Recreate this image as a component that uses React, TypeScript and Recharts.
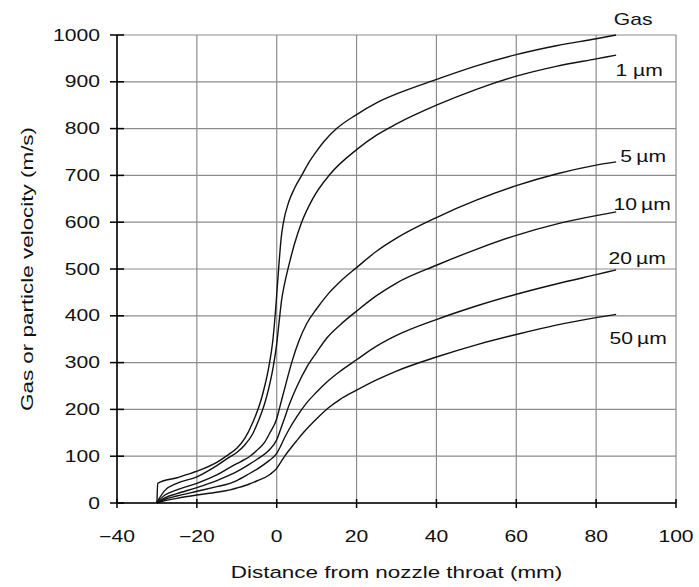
import React from "react";
import {
  LineChart,
  Line,
  XAxis,
  YAxis,
  CartesianGrid,
  ReferenceDot,
} from "recharts";

type Pt = [number, number];

const xTicks = [-40, -20, 0, 20, 40, 60, 80, 100];
const yTicks = [0, 100, 200, 300, 400, 500, 600, 700, 800, 900, 1000];

// distance (mm), velocity (m/s)
const gas: Pt[] = [
  [-30, 0], [-29.8, 42], [-25, 54], [-20, 68], [-15, 87], [-12, 104], [-10, 117],
  [-8, 138], [-6, 172], [-4, 218], [-3, 250], [-2, 290], [-1, 345], [-0.4, 400],
  [0, 445], [0.3, 480], [0.65, 520], [1.1, 565], [1.65, 598], [3, 643], [4.5, 673],
  [6.25, 700], [8, 727], [10, 752], [12, 774], [15, 800], [20, 830], [25, 855],
  [30, 874], [40, 905], [50, 934], [60, 958], [70, 977], [80, 992], [85, 1000],
];

const um1: Pt[] = [
  [-30, 2], [-28, 27], [-25, 42], [-20, 56], [-15, 80], [-12, 97], [-10, 108],
  [-8, 124], [-6, 148], [-4.6, 175], [-3, 213], [-2, 245], [-0.85, 292], [0, 340],
  [0.7, 395], [1.25, 435], [2, 470], [2.9, 503], [4.5, 555], [6.25, 600], [9, 650],
  [13.3, 702], [20, 755], [25, 786], [30, 810], [40, 850], [50, 884], [60, 912],
  [70, 933], [80, 949], [85, 957],
];

const um5: Pt[] = [
  [-30, 1], [-28, 17], [-25, 28], [-20, 42], [-15, 60], [-11.7, 76], [-10, 84],
  [-8, 93], [-6.7, 100], [-5, 112], [-3, 130], [-1.7, 150], [0, 180], [0.8, 206],
  [2, 245], [3.75, 300], [5.5, 345], [7.5, 383], [10, 415], [13, 448], [16, 474],
  [20, 503], [25, 538], [30, 566], [40, 610], [50, 647], [60, 678], [70, 703],
  [80, 722], [85, 729],
];

const um10: Pt[] = [
  [-30, 0], [-28, 11], [-25, 20], [-20, 33], [-15, 48], [-11.7, 60], [-10, 67],
  [-7, 82], [-5, 93], [-2, 112], [0, 135], [1, 158], [2, 182], [3, 207], [5, 248],
  [7.5, 290], [10, 322], [12.5, 352], [15.8, 380], [20, 410], [25, 443], [30, 470],
  [40, 508], [50, 542], [60, 572], [70, 596], [80, 614], [85, 622],
];

const um20: Pt[] = [
  [-30, 0], [-28, 8], [-25, 15], [-20, 25], [-15, 35], [-11.7, 42], [-10, 48],
  [-7, 62], [-5, 72], [-2, 90], [0, 106], [1, 122], [2, 140], [3, 156], [5, 184],
  [7.5, 214], [10, 237], [12.5, 258], [15.8, 281], [20, 306], [25, 335], [30, 358],
  [40, 392], [50, 421], [60, 446], [70, 468], [80, 488], [85, 498],
];

const um50: Pt[] = [
  [-30, 0], [-28, 5], [-25, 10], [-20, 17], [-15, 23], [-11.7, 28], [-10, 32],
  [-7, 40], [-5, 47], [-1.7, 61], [0, 74], [1, 87], [2, 100], [3.5, 117], [5, 133],
  [6.65, 150], [10, 180], [12.9, 203], [15.8, 221], [20, 241], [25, 263],
  [30, 282], [40, 312], [50, 338], [60, 360], [70, 380], [80, 396], [85, 403],
];

const series = [
  { name: "Gas", pts: gas, dx: 17, dy: -16 },
  { name: "1 µm", pts: um1, dx: 23, dy: 15 },
  { name: "5\u2009µm", pts: um5, dx: 27, dy: -5 },
  { name: "10\u2009µm", pts: um10, dx: 26, dy: -7 },
  { name: "20\u2009µm", pts: um20, dx: 21, dy: -11 },
  { name: "50\u2009µm", pts: um50, dx: 22, dy: 24 },
];

const FONT = "'Liberation Sans', Arial, Helvetica, sans-serif";
const STRETCH = 1.32;

function Txt({ x, y, anchor = "middle", size = 16, rotate = 0, children }: any) {
  return (
    <text
      transform={`translate(${x} ${y}) rotate(${rotate}) scale(${STRETCH} 1)`}
      textAnchor={anchor}
      dominantBaseline="central"
      fontFamily={FONT}
      fontSize={size}
      fill="#111"
    >
      {children}
    </text>
  );
}

const fmt = (v: number) => (v < 0 ? `\u2212${-v}` : `${v}`);

function YTick({ x, y, payload }: any) {
  return (
    <g>
      <line x1={x - 7} x2={x + 7} y1={y} y2={y} stroke="#000" strokeWidth={1.5} />
      <Txt x={x - 17} y={y} anchor="end">{payload.value}</Txt>
    </g>
  );
}

function XTick({ x, y, payload }: any) {
  return (
    <g>
      <line x1={x} x2={x} y1={y - 4} y2={y + 5} stroke="#000" strokeWidth={1.5} />
      <Txt x={x} y={y + 33}>{fmt(payload.value)}</Txt>
    </g>
  );
}

function YTitle({ viewBox }: any) {
  const cx = viewBox.x - 30;
  const cy = viewBox.y + viewBox.height / 2;
  return <Txt x={cx} y={cy} size={17} rotate={-90}>Gas or particle velocity (m/s)</Txt>;
}

function XTitle({ viewBox }: any) {
  const cx = viewBox.x + viewBox.width / 2;
  return <Txt x={cx} y={viewBox.y + 69} size={17}>Distance from nozzle throat (mm)</Txt>;
}

function CurveLabel({ viewBox, text, dx, dy }: any) {
  return <Txt x={viewBox.x + dx} y={viewBox.y + dy}>{text}</Txt>;
}

export default function App() {
  return (
    <div style={{ width: 699, height: 587 }}>
      <style>{"body{margin:0}"}</style>
      <LineChart
        width={699}
        height={587}
        margin={{ top: 35, right: 23, left: 57, bottom: 54 }}
      >
        <CartesianGrid stroke="#8c8c8c" strokeWidth={1.2} />
        <XAxis
          type="number"
          dataKey="x"
          domain={[-40, 100]}
          ticks={xTicks}
          interval={0}
          height={30}
          tickSize={0}
          tickMargin={0}
          tickLine={false}
          axisLine={{ stroke: "#000", strokeWidth: 1.5 }}
          tick={<XTick />}
          label={<XTitle />}
        />
        <YAxis
          type="number"
          domain={[0, 1000]}
          ticks={yTicks}
          interval={0}
          width={60}
          tickSize={0}
          tickMargin={0}
          tickLine={false}
          axisLine={{ stroke: "#000", strokeWidth: 1.5 }}
          tick={<YTick />}
          label={<YTitle />}
        />
        {series.map((s) => (
          <Line
            key={s.name}
            data={s.pts.map(([x, v]) => ({ x, v }))}
            dataKey="v"
            type="monotone"
            stroke="#111"
            strokeWidth={1.4}
            dot={false}
            activeDot={false}
            isAnimationActive={false}
          />
        ))}
        {series.map((s) => {
          const [lx, lv] = s.pts[s.pts.length - 1];
          return (
            <ReferenceDot
              key={`lbl-${s.name}`}
              x={lx}
              y={lv}
              r={0}
              fill="none"
              stroke="none"
              label={<CurveLabel text={s.name} dx={s.dx} dy={s.dy} />}
            />
          );
        })}
      </LineChart>
    </div>
  );
}
